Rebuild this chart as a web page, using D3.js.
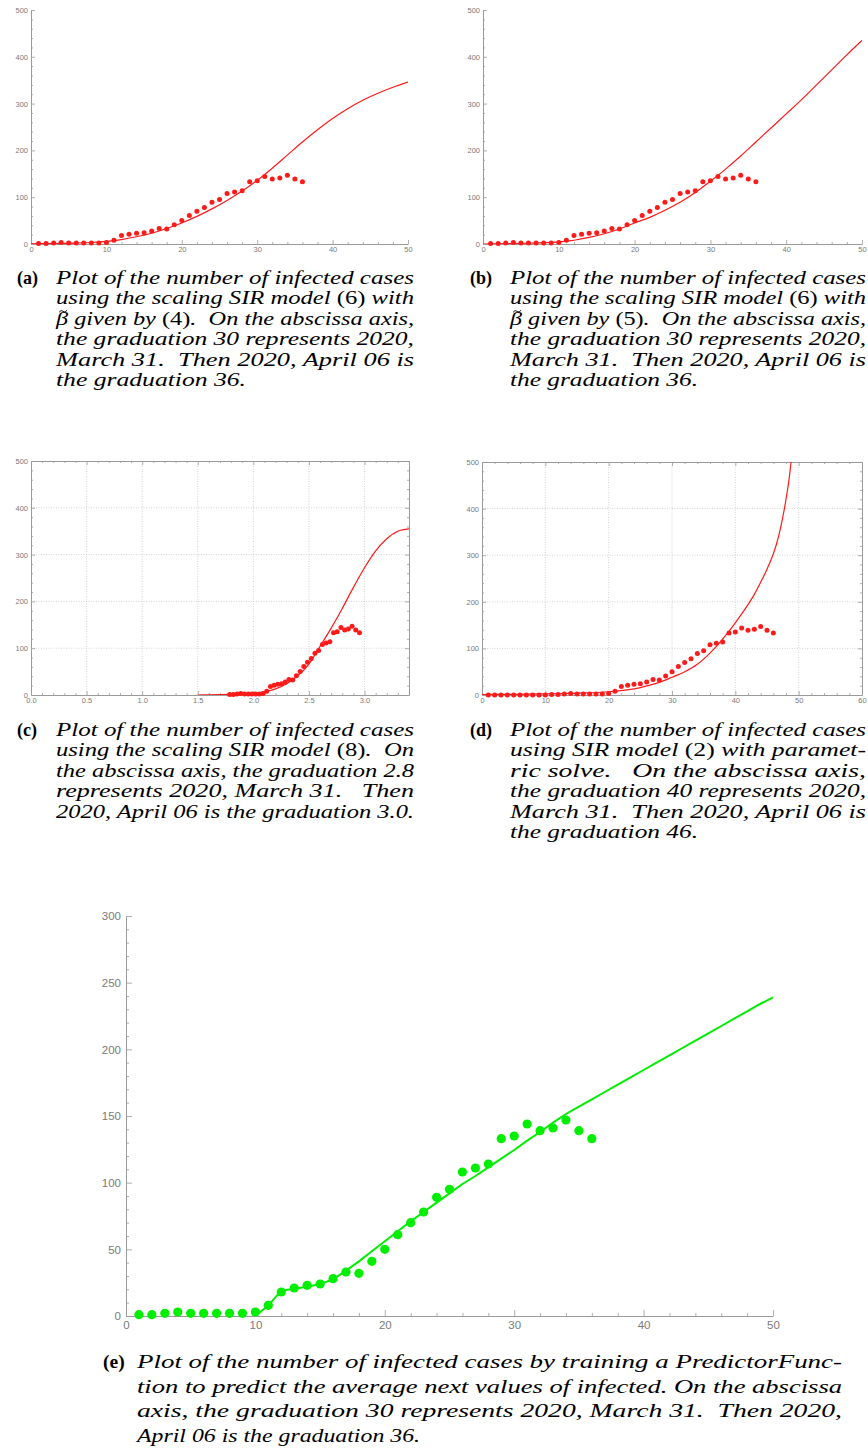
<!DOCTYPE html>
<html>
<head>
<meta charset="utf-8">
<script src="https://cdn.jsdelivr.net/npm/d3@7"></script>
<style>
  html, body { margin: 0; padding: 0; background: #fff; }
  svg { display: block; }
  .tick text { font-family: "Liberation Sans", Arial, sans-serif; }
</style>
</head>
<body>
<svg id="chart" width="868" height="1452"></svg>
<script>
// ---------------- DATA ----------------
const days = [1,2,3,4,5,6,7,8,9,10,11,12,13,14,15,16,17,18,19,20,21,22,23,24,25,26,27,28,29,30,31,32,33,34,35,36];
const infected = [1,1,2,3,2,2,2,2,2,3,8,18,21,23,24,28,33,32,41,50,61,70,78,89,95,108,111,114,133,135,144,139,141,147,139,133];

// panel (c): rescaled time for each observed day
const daysScaledC = [1.787,1.820,1.854,1.887,1.920,1.954,1.987,2.020,2.054,2.087,2.120,2.154,2.187,2.220,2.254,2.287,2.320,2.354,2.387,2.421,2.454,2.487,2.521,2.554,2.587,2.621,2.654,2.688,2.721,2.754,2.788,2.821,2.854,2.888,2.921,2.955];
// panel (d): graduation = day + 10, preceded by ten zero observations
const daysD = [1,2,3,4,5,6,7,8,9,10,11,12,13,14,15,16,17,18,19,20,21,22,23,24,25,26,27,28,29,30,31,32,33,34,35,36,37,38,39,40,41,42,43,44,45,46];
const leadingZerosD = [0,0,0,0,0,0,0,0,0,0];

// model curves
const curveAx = [0,2,4,6,8,10,12,14,16,18,20,22,24,26,28,30,32,34,36,38,40,42,44,46,48,50];
const curveAy = [0.5,0.8,1.2,2,3.2,5.5,9.5,15.5,23,33,45,59,75,93,113,136,162,190,218,244,268,289,307,322,335,346];

const curveBx = [0,2,4,6,8,10,12,14,16,18,20,22,24,26,28,30,32,34,36,38,40,42,44,46,48,50];
const curveBy = [0,0.3,0.8,1.6,2.8,4.5,8,14,22,32,45,57,72,89,110,134,160,188,218,248,278,308,340,372,404,435];

const curveCx = [1.5,1.6,1.7,1.8,1.9,2.0,2.1,2.2,2.3,2.4,2.5,2.6,2.7,2.8,2.9,3.0,3.1,3.2,3.3,3.4];
const curveCy = [0,0.3,0.8,1.5,2.5,4,7,13,24,41,66,104,143,185,230,272,308,334,350,355];

const curveDx = [0,5,10,15,20,25,28,30,32,34,36,38,40,41,42,43,44,45,46,46.5,47,47.5,48,48.5,49];
const curveDy = [1,1.5,2.5,4,7,16,27,38,50,66,90,120,155,174,194,216,242,270,303,324,350,382,420,465,525];

const curveEx = [10,11,12,13,14,15,16,17,18,19,20,21,22,23,24,25,26,27,28,29,30,31,32,33,34,35,36,37,38,39,40,41,42,43,44,45,46,47,48,49,50];
const curveEy = [0,8,19,20.5,22,24,27.5,34,41,48.5,56,63.5,71,78,85,92,99,105,111.5,118,124.5,131.5,138,145,151.5,157,162.5,168,173.5,179,184.5,190,195.5,201,206.5,212,217.5,223,228.5,234,239];

// tick labels
const ticksX50 = [0,10,20,30,40,50];
const ticksY500 = [0,100,200,300,400,500];
const ticksXC = [0,0.5,1.0,1.5,2.0,2.5,3.0];
const ticksXD = [0,10,20,30,40,50,60];
const ticksYE = [0,50,100,150,200,250,300];

// captions
const captions = [
  { label: "(a)", lx: 17, x: 56, y0: 284, dy: 20.4, size: 18, lines: [
    ["Plot of the number of infected cases", 358],
    [["using the scaling SIR model ", ["(6)"], " with"], 358],
    [["\u03B2 given by ", ["(4)"], ".  On the abscissa axis,"], 358, true],
    ["the graduation 30 represents 2020,", 358],
    ["March 31.  Then 2020, April 06 is", 358],
    ["the graduation 36.", 190]
  ]},
  { label: "(b)", lx: 470, x: 510, y0: 284, dy: 20.4, size: 18, lines: [
    ["Plot of the number of infected cases", 356],
    [["using the scaling SIR model ", ["(6)"], " with"], 356],
    [["\u03B2 given by ", ["(5)"], ".  On the abscissa axis,"], 356, true],
    ["the graduation 30 represents 2020,", 356],
    ["March 31.  Then 2020, April 06 is", 356],
    ["the graduation 36.", 188]
  ]},
  { label: "(c)", lx: 17, x: 56, y0: 736, dy: 20.4, size: 18, lines: [
    ["Plot of the number of infected cases", 358],
    [["using the scaling SIR model ", ["(8)"], ".  On"], 358],
    ["the abscissa axis, the graduation 2.8", 358],
    ["represents 2020, March 31.   Then", 358],
    ["2020, April 06 is the graduation 3.0.", 358]
  ]},
  { label: "(d)", lx: 470, x: 510, y0: 736, dy: 20.4, size: 18, lines: [
    ["Plot of the number of infected cases", 356],
    [["using SIR model ", ["(2)"], " with paramet-"], 356],
    ["ric solve.   On the abscissa axis,", 356],
    ["the graduation 40 represents 2020,", 356],
    ["March 31.  Then 2020, April 06 is", 356],
    ["the graduation 46.", 188]
  ]},
  { label: "(e)", lx: 103, x: 137, y0: 1368, dy: 24.7, size: 19.5, lines: [
    ["Plot of the number of infected cases by training a PredictorFunc-", 705],
    ["tion to predict the average next values of infected. On the abscissa", 705],
    ["axis, the graduation 30 represents 2020, March 31.  Then 2020,", 705],
    ["April 06 is the graduation 36.", 283]
  ]}
];

// ---------------- DRAWING ----------------
const svg = d3.select("#chart");
svg.append("rect").attr("width", 868).attr("height", 1452).attr("fill", "#fff");

const AXIS = "#9a9a9a";
const LABEL = "#7a7a7a";

function minorValues(domain, step) {
  const out = [];
  const n = Math.round((domain[1] - domain[0]) / step);
  for (let i = 0; i <= n; i++) out.push(+(domain[0] + i * step).toFixed(6));
  return out;
}

function panel(cfg) {
  const g = svg.append("g");
  const x = d3.scaleLinear().domain(cfg.xd).range([cfg.x0, cfg.x1]);
  const y = d3.scaleLinear().domain(cfg.yd).range([cfg.yb, cfg.yt]);
  const id = "clip" + cfg.name;
  svg.append("clipPath").attr("id", id).append("rect")
    .attr("x", cfg.x0).attr("y", cfg.yt).attr("width", cfg.x1 - cfg.x0).attr("height", cfg.yb - cfg.yt);

  if (cfg.frame) {
    g.append("g").selectAll("line").data(cfg.xticks.filter(v => v > cfg.xd[0] && v < cfg.xd[1]))
      .join("line").attr("x1", d => x(d)).attr("x2", d => x(d)).attr("y1", cfg.yt).attr("y2", cfg.yb)
      .attr("stroke", "#c8c8c8").attr("stroke-width", 0.8).attr("stroke-dasharray", "1,1.5");
    g.append("g").selectAll("line").data(cfg.yticks.filter(v => v > cfg.yd[0] && v < cfg.yd[1]))
      .join("line").attr("y1", d => y(d)).attr("y2", d => y(d)).attr("x1", cfg.x0).attr("x2", cfg.x1)
      .attr("stroke", "#c8c8c8").attr("stroke-width", 0.8).attr("stroke-dasharray", "1,1.5");
  }

  const fmtX = cfg.xfmt || d3.format("d");
  const fmtY = d3.format("d");

  function styleAxis(sel) {
    sel.selectAll(".domain").attr("stroke", AXIS).attr("stroke-width", 1);
    sel.selectAll(".tick line").attr("stroke", AXIS).attr("stroke-width", 0.8);
    sel.selectAll(".tick text").attr("fill", LABEL).attr("font-size", cfg.fs);
  }

  const xMin = minorValues(cfg.xd, cfg.xminor).filter(v => !cfg.xticks.some(t => Math.abs(t - v) < 1e-6));
  const yMin = minorValues(cfg.yd, cfg.yminor).filter(v => !cfg.yticks.some(t => Math.abs(t - v) < 1e-6));

  const bottomMinor = g.append("g").attr("transform", `translate(0,${cfg.yb})`)
    .call(d3.axisBottom(x).tickValues(xMin).tickSize(-cfg.minLen).tickSizeOuter(0).tickFormat(""));
  styleAxis(bottomMinor); bottomMinor.select(".domain").remove();
  const leftMinor = g.append("g").attr("transform", `translate(${cfg.x0},0)`)
    .call(d3.axisLeft(y).tickValues(yMin).tickSize(-cfg.minLen).tickSizeOuter(0).tickFormat(""));
  styleAxis(leftMinor); leftMinor.select(".domain").remove();

  const bottom = g.append("g").attr("transform", `translate(0,${cfg.yb})`)
    .call(d3.axisBottom(x).tickValues(cfg.xticks).tickSize(-cfg.majLen).tickSizeOuter(0).tickPadding(cfg.pad).tickFormat(fmtX));
  styleAxis(bottom);
  const left = g.append("g").attr("transform", `translate(${cfg.x0},0)`)
    .call(d3.axisLeft(y).tickValues(cfg.yticks).tickSize(-cfg.majLen).tickSizeOuter(0).tickPadding(cfg.pad).tickFormat(fmtY));
  styleAxis(left);

  if (cfg.frame) {
    const top = g.append("g").attr("transform", `translate(0,${cfg.yt})`)
      .call(d3.axisTop(x).tickValues(cfg.xticks).tickSize(-cfg.majLen).tickSizeOuter(0).tickFormat(""));
    styleAxis(top);
    const topMin = g.append("g").attr("transform", `translate(0,${cfg.yt})`)
      .call(d3.axisTop(x).tickValues(xMin).tickSize(-cfg.minLen).tickSizeOuter(0).tickFormat(""));
    styleAxis(topMin); topMin.select(".domain").remove();
    const right = g.append("g").attr("transform", `translate(${cfg.x1},0)`)
      .call(d3.axisRight(y).tickValues(cfg.yticks).tickSize(-cfg.majLen).tickSizeOuter(0).tickFormat(""));
    styleAxis(right);
    const rightMin = g.append("g").attr("transform", `translate(${cfg.x1},0)`)
      .call(d3.axisRight(y).tickValues(yMin).tickSize(-cfg.minLen).tickSizeOuter(0).tickFormat(""));
    styleAxis(rightMin); rightMin.select(".domain").remove();
  }

  const pts = cfg.cx.map((v, i) => [v, cfg.cy[i]]);
  g.append("path").datum(pts)
    .attr("clip-path", `url(#${id})`)
    .attr("fill", "none").attr("stroke", cfg.color).attr("stroke-width", cfg.lw)
    .attr("d", d3.line().x(d => x(d[0])).y(d => y(d[1])).curve(cfg.curve || d3.curveMonotoneX));

  const dots = cfg.px.map((v, i) => ({ x: v, y: cfg.py[i] }));
  g.append("g").selectAll("circle").data(dots).join("circle")
    .attr("cx", d => x(d.x)).attr("cy", d => y(d.y)).attr("r", cfg.r).attr("fill", cfg.color);
}

const RED = "#ff1a1a";

panel({ name: "A", x0: 31, x1: 408, yt: 10, yb: 244, xd: [0, 50], yd: [0, 500],
  xticks: ticksX50, yticks: ticksY500, xminor: 2, yminor: 20, majLen: 4, minLen: 2, pad: 3, fs: 7.5,
  cx: curveAx, cy: curveAy, px: days, py: infected, color: RED, lw: 1.2, r: 2.5 });

panel({ name: "B", x0: 483, x1: 862, yt: 10, yb: 244, xd: [0, 50], yd: [0, 500],
  xticks: ticksX50, yticks: ticksY500, xminor: 2, yminor: 20, majLen: 4, minLen: 2, pad: 3, fs: 7.5,
  cx: curveBx, cy: curveBy, px: days, py: infected, color: RED, lw: 1.2, r: 2.5 });

panel({ name: "C", frame: true, x0: 31, x1: 409, yt: 461, yb: 695, xd: [0, 3.4], yd: [0, 500],
  xticks: ticksXC, yticks: ticksY500, xminor: 0.1, yminor: 20, majLen: 4, minLen: 2, pad: 3, fs: 7.5,
  xfmt: d3.format(".1f"),
  cx: curveCx, cy: curveCy, px: daysScaledC, py: infected, color: RED, lw: 1.2, r: 2.5 });

panel({ name: "D", frame: true, x0: 482, x1: 862, yt: 462, yb: 695, xd: [0, 60], yd: [0, 500],
  xticks: ticksXD, yticks: ticksY500, xminor: 2, yminor: 20, majLen: 4, minLen: 2, pad: 3, fs: 7.5,
  cx: curveDx, cy: curveDy, px: daysD, py: leadingZerosD.concat(infected), color: RED, lw: 1.2, r: 2.5 });

panel({ name: "E", x0: 126, x1: 773, yt: 916, yb: 1316, xd: [0, 50], yd: [0, 300],
  xticks: ticksX50, yticks: ticksYE, xminor: 2, yminor: 10, majLen: 6, minLen: 3, pad: 5, fs: 11.5,
  cx: curveEx, cy: curveEy, px: days, py: infected, color: "#00ee00", lw: 2, r: 4.6,
  curve: d3.curveLinear });

// captions
captions.forEach(c => {
  svg.append("text").attr("x", c.lx).attr("y", c.y0)
    .attr("font-family", "'Liberation Serif', 'DejaVu Serif', serif").attr("font-weight", "bold")
    .attr("font-size", c.size).attr("fill", "#000").text(c.label);
  c.lines.forEach((ln, i) => {
    const [content, width, beta] = ln;
    const yy = c.y0 + i * c.dy;
    const t = svg.append("text").attr("x", c.x).attr("y", yy)
      .attr("font-family", "'Liberation Serif', 'DejaVu Serif', serif").attr("font-style", "italic")
      .attr("font-size", c.size).attr("fill", "#000")
      .attr("textLength", width).attr("lengthAdjust", "spacingAndGlyphs")
      .attr("xml:space", "preserve");
    const parts = Array.isArray(content) ? content : [content];
    parts.forEach(p => {
      if (Array.isArray(p)) t.append("tspan").attr("font-style", "normal").text(p[0]);
      else t.append("tspan").text(p);
    });
    if (beta) {
      // tilde accent over beta, drawn as a small path
      const tx = c.x + 3, ty = yy - 14;
      svg.append("path")
        .attr("d", `M${tx},${ty + 1.5} q2,-3 4,-1 t4,-1`)
        .attr("fill", "none").attr("stroke", "#000").attr("stroke-width", 0.9);
    }
  });
});
</script>
</body>
</html>
